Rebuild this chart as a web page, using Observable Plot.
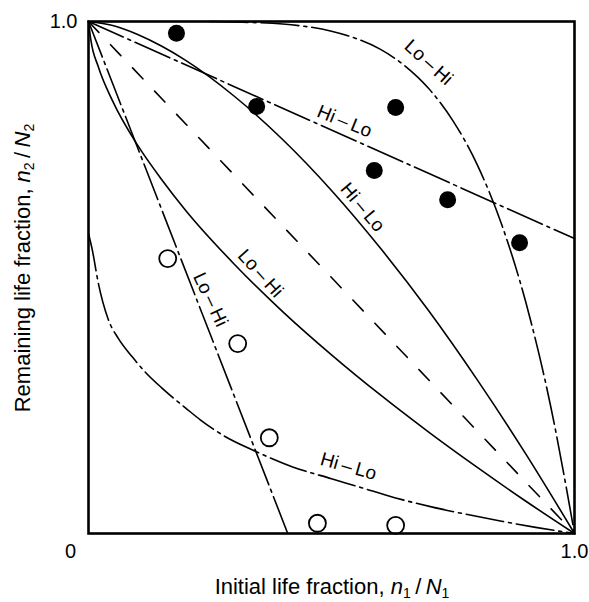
<!DOCTYPE html>
<html>
<head>
<meta charset="utf-8">
<script src="https://cdn.jsdelivr.net/npm/d3@7"></script>
<script src="https://cdn.jsdelivr.net/npm/@observablehq/plot@0.6"></script>
<style>
  html, body { margin: 0; padding: 0; background: #fff; }
  #chart svg { display: block; }
</style>
</head>
<body>
<div id="chart"></div>
<script>
// Linear damage rule: the diagonal from (0,1) to (1,0)
const linearRule = [[0, 1], [1, 0]];

// Solid curves (two-level loading, first material)
const hiLoSolid = [[0, 1], [0.05, 0.992], [0.1, 0.975], [0.15, 0.952], [0.2, 0.924], [0.3, 0.854],
  [0.4, 0.769], [0.5, 0.670], [0.6, 0.558], [0.7, 0.435], [0.8, 0.300], [0.9, 0.155], [1, 0]];
const loHiSolid = [[0, 1], [0.005, 0.963], [0.02, 0.912], [0.05, 0.844], [0.1, 0.760], [0.15, 0.692],
  [0.2, 0.631], [0.3, 0.526], [0.4, 0.433], [0.5, 0.349], [0.6, 0.271], [0.7, 0.198],
  [0.8, 0.129], [0.9, 0.063], [1, 0]];

// Dash-dot curves (two-level loading, second material)
const hiLoDashDotUpper = [[0, 1], [1, 0.576]];
const loHiDashDotUpper = [[0.25, 1], [0.3, 0.999], [0.4, 0.995], [0.5, 0.981], [0.55, 0.967],
  [0.6, 0.946], [0.65, 0.914], [0.7, 0.869], [0.75, 0.806], [0.8, 0.720], [0.85, 0.604],
  [0.9, 0.451], [0.95, 0.253], [1, 0]];
const loHiDashDotLower = [[0, 1], [0.41, 0]];
const hiLoDashDotLower = [[0, 0.586], [0.008, 0.553], [0.02, 0.49], [0.04, 0.42], [0.062, 0.38],
  [0.09, 0.345], [0.117, 0.315], [0.15, 0.285], [0.173, 0.266], [0.2, 0.245], [0.23, 0.222],
  [0.28, 0.19], [0.34, 0.162], [0.42, 0.13], [0.5, 0.107], [0.56, 0.09], [0.63, 0.07],
  [0.71, 0.051], [0.78, 0.037], [0.85, 0.024], [0.92, 0.012], [1, 0]];

// Test results
const filledPoints = [[0.181, 0.977], [0.346, 0.834], [0.632, 0.832], [0.588, 0.709],
  [0.739, 0.652], [0.887, 0.568]];
const openPoints = [[0.163, 0.537], [0.307, 0.371], [0.372, 0.187], [0.471, 0.020], [0.632, 0.016]];

// Curve labels: position (data units), text, rotation
const curveLabels = [
  {x: 0.700, y: 0.920, text: "Lo\u2009–\u2009Hi", angle: 42},
  {x: 0.527, y: 0.805, text: "Hi\u2009–\u2009Lo", angle: 22},
  {x: 0.564, y: 0.637, text: "Hi\u2009–\u2009Lo", angle: 50},
  {x: 0.354, y: 0.508, text: "Lo\u2009–\u2009Hi", angle: 48},
  {x: 0.251, y: 0.457, text: "Lo\u2009–\u2009Hi", angle: 65},
  {x: 0.535, y: 0.131, text: "Hi\u2009–\u2009Lo", angle: 16}
];

// Axis extremes
const xTickLabels = ["0", "1.0"];
const yTickLabel = "1.0";

const font = "'Liberation Sans', Arial, Helvetica, sans-serif";
const lw = 1.6;
const dashDot = "38,5,3,5";

const line = (data, dash) => Plot.line(data, {
  x: d => d[0], y: d => d[1], stroke: "black", strokeWidth: lw,
  strokeDasharray: dash, curve: "monotone-x"
});

const chart = Plot.plot({
  width: 589,
  height: 602,
  marginTop: 21,
  marginRight: 15,
  marginBottom: 69,
  marginLeft: 88,
  x: {domain: [0, 1], axis: null},
  y: {domain: [0, 1], axis: null},
  style: {fontFamily: font, fontSize: "20px", color: "black", background: "white"},
  marks: [
    line(linearRule, "15,17"),
    line(hiLoSolid, null),
    line(loHiSolid, null),
    line(hiLoDashDotUpper, dashDot),
    line(loHiDashDotUpper, dashDot),
    line(loHiDashDotLower, dashDot),
    line(hiLoDashDotLower, dashDot),
    Plot.dot(filledPoints, {x: d => d[0], y: d => d[1], r: 8.5, fill: "black", stroke: "none"}),
    Plot.dot(openPoints, {x: d => d[0], y: d => d[1], r: 8.5, fill: "white", stroke: "black", strokeWidth: 1.8}),
    Plot.text(curveLabels, {x: "x", y: "y", text: "text", rotate: "angle", fontSize: 19, fill: "black"}),
    Plot.text([0], {x: d => d, y: 0, text: () => xTickLabels[0], dx: -18, dy: 18, fontSize: 20, fill: "black"}),
    Plot.text([1], {x: d => d, y: 0, text: () => xTickLabels[1], dy: 18, fontSize: 20, fill: "black"}),
    Plot.text([1], {x: 0, y: d => d, text: () => yTickLabel, dx: -11, textAnchor: "end", fontSize: 20, fill: "black"}),
    Plot.frame({stroke: "black", strokeWidth: 2.6})
  ]
});

document.getElementById("chart").appendChild(chart);

// Axis titles with italic symbols and subscripts
const svg = d3.select(chart);
function title(sel, main, sym1, sub1, sym2, sub2) {
  sel.attr("font-family", font).attr("font-size", 22).attr("fill", "black")
    .attr("text-anchor", "middle");
  sel.append("tspan").text(main);
  sel.append("tspan").attr("font-style", "italic").text(sym1);
  sel.append("tspan").attr("font-size", 14).attr("dy", 4).text(sub1);
  sel.append("tspan").attr("dy", -4).text("\u2009/\u2009");
  sel.append("tspan").attr("font-style", "italic").text(sym2);
  sel.append("tspan").attr("font-size", 14).attr("dy", 4).text(sub2);
}
title(svg.append("text").attr("x", 332).attr("y", 594),
  "Initial life fraction, ", "n", "1", "N", "1");
title(svg.append("text").attr("transform", "translate(30,268) rotate(-90)"),
  "Remaining life fraction, ", "n", "2", "N", "2");
</script>
</body>
</html>
